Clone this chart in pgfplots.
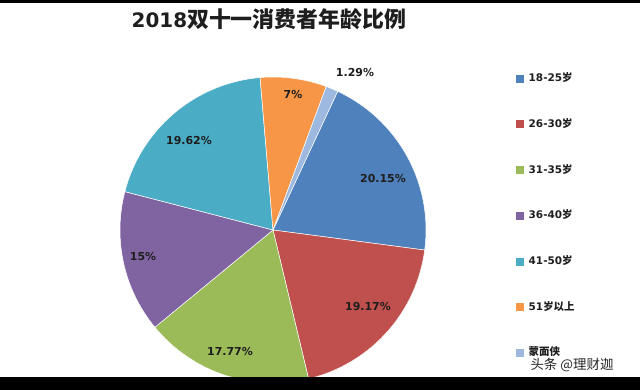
\documentclass[border=0pt]{standalone}
\usepackage{pgfplots}
\pgfplotsset{compat=1.18}
\usepackage{fontspec}
\setmainfont{DejaVu Sans}
\newfontfamily\cjk{Noto Sans CJK SC}
\definecolor{c1}{HTML}{4F81BD}
\definecolor{c2}{HTML}{C0504D}
\definecolor{c3}{HTML}{9BBB59}
\definecolor{c4}{HTML}{8064A2}
\definecolor{c5}{HTML}{4BACC6}
\definecolor{c6}{HTML}{F79646}
\definecolor{c7}{HTML}{9DB9DF}
\definecolor{lab}{HTML}{1E1E1E}
% slice values (percent), clockwise from 65 degrees
\pgfmathsetmacro\aA{65}
\pgfmathsetmacro\aB{\aA-3.6*20.15}
\pgfmathsetmacro\aC{\aB-3.6*19.17}
\pgfmathsetmacro\aD{\aC-3.6*17.77}
\pgfmathsetmacro\aE{\aD-3.6*15}
\pgfmathsetmacro\aF{\aE-3.6*19.62}
\pgfmathsetmacro\aG{\aF-3.6*7}
\pgfmathsetmacro\aH{\aG-3.6*1.29}
\begin{document}
\begin{tikzpicture}
\fill[white] (0,0) rectangle (640bp,390bp);
\begin{axis}[
  scale only axis, width=640bp, height=390bp,
  xmin=0, xmax=640, ymin=0, ymax=390,
  hide axis, clip=false,
  legend cell align=left,
  legend image code/.code={\fill[#1,draw=none] (0bp,-4bp) rectangle (8bp,4bp);},
  legend style={draw=none, fill=none, at={(axis cs:516,318)}, anchor=north west,
    inner sep=0pt, row sep=32.7bp,
    font=\fontsize{10.5}{12}\selectfont\bfseries,
    nodes={inner sep=1.5bp, text height=8bp, text depth=2bp, text=lab},
    /tikz/every odd column/.append style={column sep=3bp}},
  pie/.style={draw=white, line width=0.5pt, samples=80, variable=\t},
]
\addplot[pie, fill=c1, domain=\aB:\aA] ({273+153*cos(\t)},{160+153*sin(\t)}) -- (axis cs:273,160) -- cycle;
\addlegendentry{18-25{\cjk\bfseries 岁}}
\addplot[pie, fill=c2, domain=\aC:\aB] ({273+153*cos(\t)},{160+153*sin(\t)}) -- (axis cs:273,160) -- cycle;
\addlegendentry{26-30{\cjk\bfseries 岁}}
\addplot[pie, fill=c3, domain=\aD:\aC] ({273+153*cos(\t)},{160+153*sin(\t)}) -- (axis cs:273,160) -- cycle;
\addlegendentry{31-35{\cjk\bfseries 岁}}
\addplot[pie, fill=c4, domain=\aE:\aD] ({273+153*cos(\t)},{160+153*sin(\t)}) -- (axis cs:273,160) -- cycle;
\addlegendentry{36-40{\cjk\bfseries 岁}}
\addplot[pie, fill=c5, domain=\aF:\aE] ({273+153*cos(\t)},{160+153*sin(\t)}) -- (axis cs:273,160) -- cycle;
\addlegendentry{41-50{\cjk\bfseries 岁}}
\addplot[pie, fill=c6, domain=\aG:\aF] ({273+153*cos(\t)},{160+153*sin(\t)}) -- (axis cs:273,160) -- cycle;
\addlegendentry{51{\cjk\bfseries 岁以上}}
\addplot[pie, fill=c7, domain=\aH:\aG] ({273+153*cos(\t)},{160+153*sin(\t)}) -- (axis cs:273,160) -- cycle;
\addlegendentry{{\cjk\bfseries 蒙面侠}}
\begin{scope}[every node/.style={font=\fontsize{11}{13}\selectfont\bfseries, text=lab}]
\node at (axis cs:355,317) {1.29\%};
\node at (axis cs:293,295) {7\%};
\node at (axis cs:383,211) {20.15\%};
\node at (axis cs:368,83) {19.17\%};
\node at (axis cs:230,38) {17.77\%};
\node at (axis cs:143,133) {15\%};
\node at (axis cs:189,249) {19.62\%};
\end{scope}
\node[text=lab] at (axis cs:269,371) {\fontsize{20}{24}\selectfont\bfseries 2018{\cjk\fontsize{22}{24}\selectfont\bfseries 双十一消费者年龄比例}};
\node[text=black!85, anchor=west] at (axis cs:527,25) {\cjk\fontsize{13.5}{15}\selectfont 头条 @理财迦};
\end{axis}
\fill[black] (0,0) rectangle (640bp,13bp);
\fill[black] (0,387bp) rectangle (640bp,390bp);
\end{tikzpicture}
\end{document}
